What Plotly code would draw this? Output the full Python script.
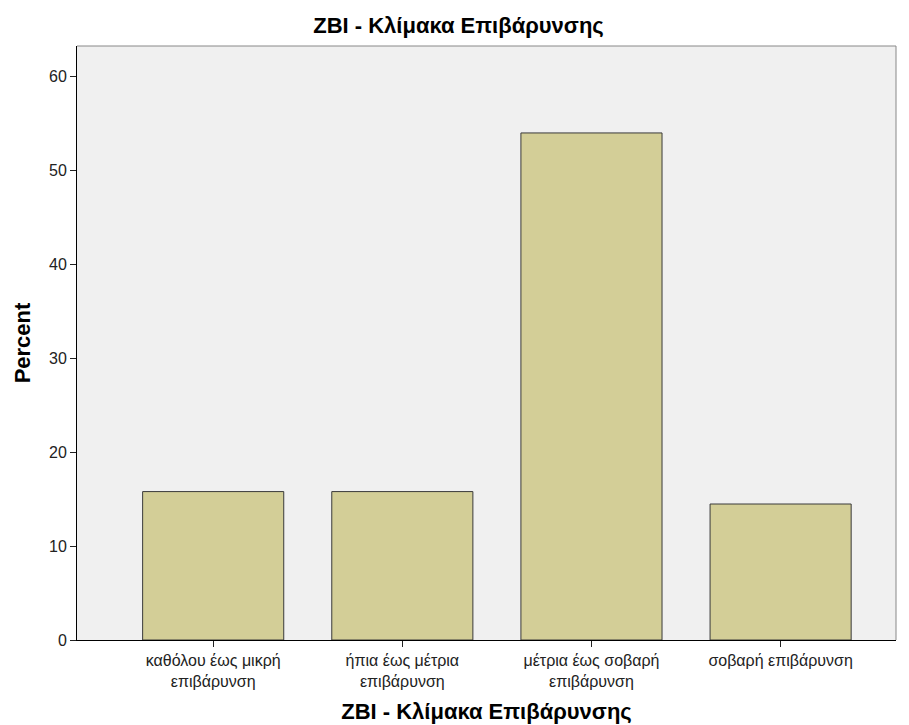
import plotly.graph_objects as go

categories = ["καθόλου έως μικρή<br>επιβάρυνση", "ήπια έως μέτρια<br>επιβάρυνση",
              "μέτρια έως σοβαρή<br>επιβάρυνση", "σοβαρή επιβάρυνση"]
percent = [15.79, 15.79, 53.95, 14.47]
y_ticks = [0, 10, 20, 30, 40, 50, 60]

fig = go.Figure(go.Bar(
    x=list(range(len(categories))), y=percent, width=0.746,
    marker=dict(color="#D3CE97", line=dict(color="#3a3a3a", width=1)),
))

# page body has an 8px margin, so the figure is drawn 8px in from the window corner
W, H = 901, 717
font = "Liberation Sans, Arial, sans-serif"
title_font = dict(family=font, size=22, color="#000")
fig.update_layout(
    width=W, height=H,
    margin=dict(l=69, r=13, t=38, b=85),
    paper_bgcolor="white", plot_bgcolor="#F0F0F0",
    showlegend=False,
    font=dict(family=font, size=16, color="#222"),
    title=dict(text="<b>ZBI - Κλίμακα Επιβάρυνσης</b>", x=0.5, xanchor="center",
               y=1 - 17.5/H, yanchor="middle", font=title_font),
    xaxis=dict(range=[-0.72, 3.61], tickvals=list(range(len(categories))), ticktext=categories,
               ticks="outside", ticklen=6, tickcolor="#222", showgrid=False, zeroline=False,
               showline=True, linecolor="#000", linewidth=1, automargin=False,
               title=dict(text="<b>ZBI - Κλίμακα Επιβάρυνσης</b>", font=title_font, standoff=14)),
    yaxis=dict(range=[0, 63.2], tickvals=y_ticks, ticks="outside", ticklen=6, tickcolor="#222",
               showgrid=False, zeroline=False, showline=True, linecolor="#000", linewidth=1,
               automargin=False,
               title=dict(text="<b>Percent</b>", font=title_font, standoff=12)),
)
fig.add_shape(type="line", xref="paper", yref="paper", x0=0, x1=1, y0=1, y1=1,
              line=dict(color="#888", width=1))
fig.add_shape(type="line", xref="paper", yref="paper", x0=1, x1=1, y0=0, y1=1,
              line=dict(color="#888", width=1))
fig.write_html("out.html")
